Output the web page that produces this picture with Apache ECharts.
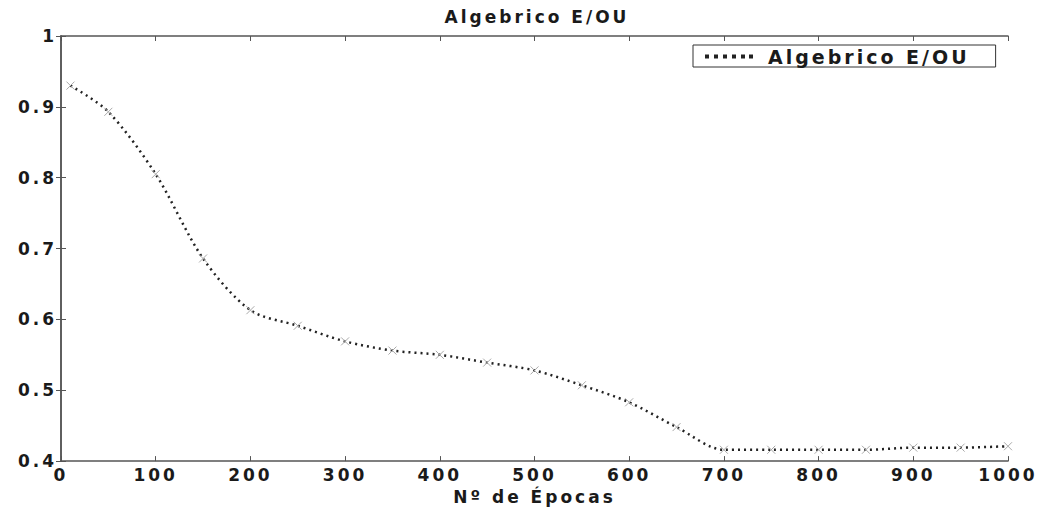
<!DOCTYPE html>
<html>
<head>
<meta charset="utf-8">
<script src="https://cdn.jsdelivr.net/npm/echarts@6/dist/echarts.min.js"></script>
<style>
  html, body { margin: 0; padding: 0; background: #fff; }
  #chart { width: 1042px; height: 510px; }
  /* o original tem texto bem espaçado */
  #chart text { letter-spacing: 3px; }
</style>
</head>
<body>
<div id="chart"></div>
<script>
// valores (erro vs. épocas)
const epocas = [10, 50, 100, 150, 200, 250, 300, 350, 400, 450, 500, 550, 600, 650, 700, 750, 800, 850, 900, 950, 1000];
const erro = [0.930, 0.893, 0.805, 0.686, 0.613, 0.591, 0.569, 0.556, 0.550, 0.539, 0.528, 0.507, 0.483, 0.448, 0.416, 0.416, 0.416, 0.416, 0.419, 0.419, 0.421];
const xTicks = [0, 1000, 100];
const yTicks = [0.4, 1, 0.1];

const chart = echarts.init(document.getElementById('chart'), null, { renderer: 'svg' });
const font = { fontFamily: 'DejaVu Sans', fontWeight: 'bold', fontSize: 17, color: '#1a1a1a' };
const axisLine = { show: true, lineStyle: { color: '#555', width: 1.5 } };
const tick = { show: true, inside: true, length: 5, lineStyle: { color: '#555' } };

chart.setOption({
  animation: false,
  backgroundColor: '#fff',
  title: {
    text: 'Algebrico E/OU',
    left: 532, top: 3, textAlign: 'center',
    textStyle: { ...font, fontSize: 17 },
  },
  legend: {
    left: 693, top: 45,
    backgroundColor: '#fff',
    borderColor: '#333', borderWidth: 1,
    padding: [2, 68, 1, 12],
    itemWidth: 48, itemHeight: 4,
    itemGap: 6,
    textStyle: { ...font, fontSize: 19, padding: [0, 0, 0, 10] },
    itemStyle: { color: '#222', borderWidth: 0 },
    data: [{
      name: 'Algebrico E/OU',
      icon: 'path://M0,0h4v4h-4zM9,0h4v4h-4zM18,0h4v4h-4zM27,0h4v4h-4zM36,0h4v4h-4zM44,0h4v4h-4z',
    }],
  },
  grid: { left: 61, right: 34, top: 36, bottom: 47 },
  xAxis: [{
    type: 'value', min: xTicks[0], max: xTicks[1], interval: xTicks[2],
    name: 'Nº de Épocas', nameLocation: 'middle', nameGap: 25,
    nameTextStyle: { ...font, fontSize: 17 },
    axisLine, axisTick: tick,
    axisLabel: { ...font, margin: 5, formatter: v => String(v) },
    splitLine: { show: false },
  }, {
    type: 'value', position: 'top', min: xTicks[0], max: xTicks[1], interval: xTicks[2],
    axisLine, axisTick: tick,
    axisLabel: { show: false }, splitLine: { show: false },
  }],
  yAxis: [{
    type: 'value', min: yTicks[0], max: yTicks[1], interval: yTicks[2],
    axisLine, axisTick: tick,
    axisLabel: { ...font, margin: 4, formatter: v => String(+v.toFixed(1)) },
    splitLine: { show: false },
  }, {
    type: 'value', position: 'right', min: yTicks[0], max: yTicks[1], interval: yTicks[2],
    axisLine, axisTick: tick,
    axisLabel: { show: false }, splitLine: { show: false },
  }],
  series: [{
    name: 'Algebrico E/OU',
    type: 'line',
    smooth: 0.3,
    data: epocas.map((e, i) => [e, erro[i]]),
    symbol: 'path://M0,0L10,10M10,0L0,10',
    symbolSize: 8,
    showAllSymbol: true,
    itemStyle: { color: 'transparent', borderColor: '#aaa', borderWidth: 1 },
    lineStyle: { color: '#222', width: 2.5, type: [2, 4] },
    z: 3,
  }],
});
</script>
</body>
</html>
